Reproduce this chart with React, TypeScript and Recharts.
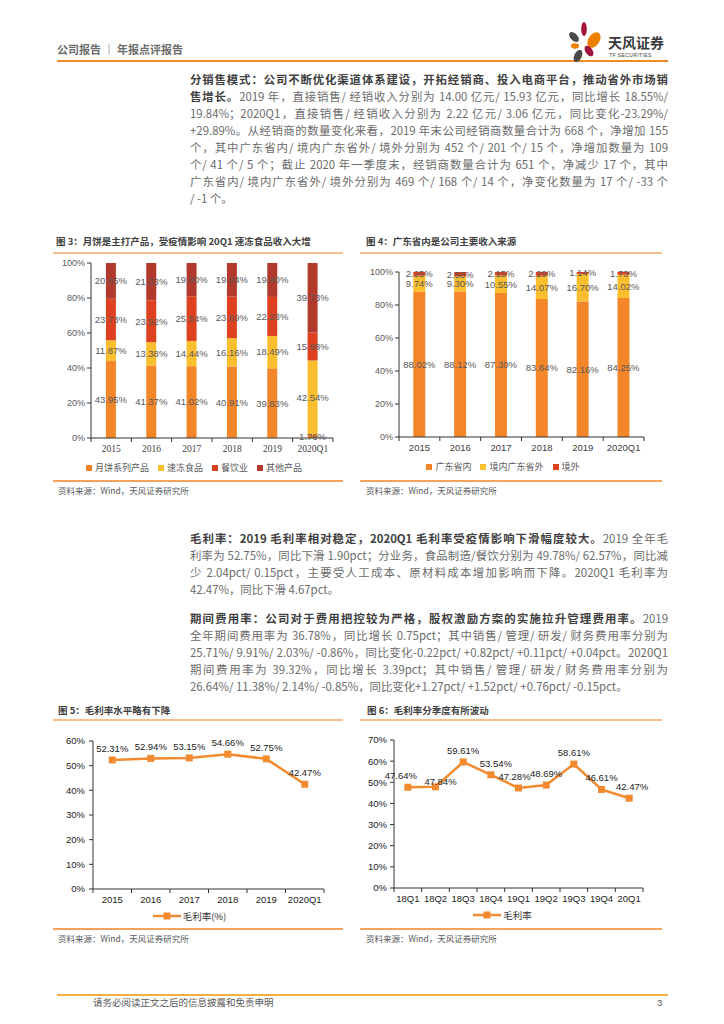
import React from "react";
import { BarChart, Bar, XAxis, YAxis, Legend, LabelList, LineChart, Line } from "recharts";

const years = ["2015", "2016", "2017", "2018", "2019", "2020Q1"];
const productNames = ["月饼系列产品", "速冻食品", "餐饮业", "其他产品"];
const mooncake = [43.95, 41.37, 41.02, 40.91, 39.83, 1.76];
const frozen = [11.87, 13.38, 14.44, 16.16, 18.49, 42.54];
const catering = [23.73, 23.92, 25.54, 23.69, 22.28, 15.98];
const others = [20.45, 21.33, 19.0, 19.24, 19.4, 39.73];

const regionNames = ["广东省内", "境内广东省外", "境外"];
const inGuangdong = [88.02, 88.12, 87.3, 83.64, 82.16, 84.25];
const outGuangdong = [9.74, 9.3, 10.55, 14.07, 16.7, 14.02];
const overseas = [2.25, 2.58, 2.15, 2.29, 1.14, 1.73];

const gmAnnual = [52.31, 52.94, 53.15, 54.66, 52.75, 42.47];
const quarters = ["18Q1", "18Q2", "18Q3", "18Q4", "19Q1", "19Q2", "19Q3", "19Q4", "20Q1"];
const gmQuarter = [47.64, 47.84, 59.61, 53.54, 47.28, 48.69, 58.61, 46.61, 42.47];

const pctTicks = [0, 20, 40, 60, 80, 100];
const annualTicks = [0, 10, 20, 30, 40, 50, 60];
const quarterTicks = [0, 10, 20, 30, 40, 50, 60, 70];

const productData = years.map((y, i) => ({
  year: y,
  mooncake: mooncake[i],
  frozen: frozen[i],
  catering: catering[i],
  others: others[i],
}));
const regionData = years.map((y, i) => ({
  year: y,
  inGd: inGuangdong[i],
  outGd: outGuangdong[i],
  overseas: overseas[i],
}));
const annualData = years.map((y, i) => ({ year: y, gm: gmAnnual[i] }));
const quarterData = quarters.map((q, i) => ({ q, gm: gmQuarter[i] }));

const ORANGE = "#F4862A";
const YELLOW = "#FBBE2E";
const RED = "#DE411F";
const DARKRED = "#B23A2C";
const LINE = "#F28A30";

const productColors = [ORANGE, YELLOW, RED, DARKRED];
const regionColors = [ORANGE, YELLOW, RED];

// label nudges for the quarterly chart, as in the original layout
const qLabelDx = [-7, 5, 0, 5, -4, 0, 0, 0, 3];
const qLabelDy = [0, 6, 0, 0, 0, 0, 0, 0, 0];

const SANS = '"Liberation Sans", Arial, "Noto Sans CJK SC", sans-serif';
const CJK = '"Noto Sans CJK SC", "Liberation Sans", sans-serif';

const pct = (v: number) => v.toFixed(2) + "%";

// x-axis ticks drawn on category boundaries
function bandTick(count: number, plotW: number, family: string, color: string, size: number) {
  const band = plotW / count;
  return (props: any) => {
    const { x, y, payload, index } = props;
    const axisY = y - 7;
    return (
      <g>
        <line x1={x - band / 2} x2={x - band / 2} y1={axisY} y2={axisY + 4} stroke="#333" />
        {index === count - 1 && (
          <line x1={x + band / 2} x2={x + band / 2} y1={axisY} y2={axisY + 4} stroke="#333" />
        )}
        <text x={x} y={y} dy="0.75em" textAnchor="middle" fill={color} fontSize={size} fontFamily={family}>
          {payload.value}
        </text>
      </g>
    );
  };
}

function squareLegend(names: string[], colors: string[]) {
  return () => (
    <div style={{ display: "flex", justifyContent: "center", gap: 9, fontSize: 9, color: "#595959", fontFamily: CJK, paddingTop: 3 }}>
      {names.map((n, i) => (
        <span key={n} style={{ display: "flex", alignItems: "center" }}>
          <span style={{ width: 6, height: 6, background: colors[i], marginRight: 3, display: "inline-block" }} />
          {n}
        </span>
      ))}
    </div>
  );
}

function lineLegend(name: string) {
  return () => (
    <div style={{ display: "flex", justifyContent: "center", alignItems: "center", fontSize: 9.5, color: "#333", fontFamily: CJK }}>
      <svg width={28} height={8} style={{ marginRight: 2 }}>
        <line x1={0} y1={4} x2={28} y2={4} stroke={LINE} strokeWidth={2.5} />
        <rect x={10.5} y={0.5} width={7} height={7} fill={LINE} />
      </svg>
      {name}
    </div>
  );
}

const squareDot = (p: any) => (
  <rect key={`d-${p.index}`} x={p.cx - 3.5} y={p.cy - 3.5} width={7} height={7} fill={LINE} />
);

const quarterLabel = (p: any) => {
  const { x, y, value, index } = p;
  return (
    <text
      x={x + qLabelDx[index]}
      y={y - 8 + qLabelDy[index]}
      textAnchor="middle"
      fill="#222"
      fontSize={9.5}
      fontFamily={SANS}
    >
      {pct(value)}
    </text>
  );
};

type Seg = [string, boolean];
const para1: Seg[][] = [
  [["分销售模式：公司不断优化渠道体系建设，开拓经销商、投入电商平台，推动省外市场销", true]],
  [["售增长。", true], ["2019 年，直接销售/ 经销收入分别为 14.00 亿元/ 15.93 亿元，同比增长 18.55%/", false]],
  [["19.84%；2020Q1，直接销售/ 经销收入分别为 2.22 亿元/ 3.06 亿元，同比变化-23.29%/", false]],
  [["+29.89%。从经销商的数量变化来看，2019 年末公司经销商数量合计为 668 个，净增加 155", false]],
  [["个，其中广东省内/ 境内广东省外/ 境外分别为 452 个/ 201 个/ 15 个，净增加数量为 109", false]],
  [["个/ 41 个/ 5 个；截止 2020 年一季度末，经销商数量合计为 651 个，净减少 17 个，其中", false]],
  [["广东省内/ 境内广东省外/ 境外分别为 469 个/ 168 个/ 14 个，净变化数量为 17 个/ -33 个", false]],
  [["/ -1 个。", false]],
];
const para2: Seg[][] = [
  [["毛利率：2019 毛利率相对稳定，2020Q1 毛利率受疫情影响下滑幅度较大。", true], ["2019 全年毛", false]],
  [["利率为 52.75%，同比下滑 1.90pct；分业务，食品制造/餐饮分别为 49.78%/ 62.57%，同比减", false]],
  [["少 2.04pct/ 0.15pct，主要受人工成本、原材料成本增加影响而下降。2020Q1 毛利率为", false]],
  [["42.47%，同比下滑 4.67pct。", false]],
];
const para3: Seg[][] = [
  [["期间费用率：公司对于费用把控较为严格，股权激励方案的实施拉升管理费用率。", true], ["2019", false]],
  [["全年期间费用率为 36.78%，同比增长 0.75pct；其中销售/ 管理/ 研发/ 财务费用率分别为", false]],
  [["25.71%/ 9.91%/ 2.03%/ -0.86%，同比变化-0.22pct/ +0.82pct/ +0.11pct/ +0.04pct。2020Q1", false]],
  [["期间费用率为 39.32%，同比增长 3.39pct；其中销售/ 管理/ 研发/ 财务费用率分别为", false]],
  [["26.64%/ 11.38%/ 2.14%/ -0.85%，同比变化+1.27pct/ +1.52pct/ +0.76pct/ -0.15pct。", false]],
];

function Paragraph({ lines, top }: { lines: Seg[][]; top: number }) {
  return (
    <>
      {lines.map((segs, i) => {
        const justify = i < lines.length - 1;
        return (
          <div
            key={i}
            style={{
              position: "absolute",
              left: 190,
              width: 478,
              top: top + i * 17 - 8,
              height: 16,
              lineHeight: "16px",
              fontSize: 11.4,
              fontFamily: CJK,
              color: "#6b6b6b",
              whiteSpace: "nowrap",
              textAlign: justify ? "justify" : "left",
              textAlignLast: justify ? "justify" : "left",
            }}
          >
            {segs.map(([t, b], j) =>
              b ? (
                <b key={j} style={{ color: "#404040" }}>{t}</b>
              ) : (
                <span key={j}>{t}</span>
              )
            )}
          </div>
        );
      })}
    </>
  );
}

function Txt({ x, y, size, color, bold, children, family }: any) {
  return (
    <div
      style={{
        position: "absolute",
        left: x,
        top: y - size * 0.7,
        fontSize: size,
        lineHeight: `${size * 1.4}px`,
        color,
        fontWeight: bold ? 700 : 400,
        fontFamily: family || CJK,
        whiteSpace: "nowrap",
      }}
    >
      {children}
    </div>
  );
}

function HLine({ x1, x2, y, color, h }: any) {
  return <div style={{ position: "absolute", left: x1, width: x2 - x1, top: y - h / 2, height: h, background: color }} />;
}

function Logo() {
  return (
    <svg style={{ position: "absolute", left: 560, top: 15, overflow: "visible" }} width={110} height={50}>
      <ellipse cx={24} cy={14} rx={2.8} ry={7} fill="#A3173C" />
      <ellipse cx={14} cy={22} rx={3.5} ry={6} fill="#4B4B4B" transform="rotate(-45 14 22)" />
      <ellipse cx={34} cy={25} rx={5.5} ry={8.5} fill="#EE7F00" transform="rotate(35 34 25)" />
      <ellipse cx={15} cy={31} rx={4} ry={2.8} fill="#EE7F00" />
      <ellipse cx={29} cy={36} rx={3.5} ry={6} fill="#A3173C" transform="rotate(-35 29 36)" />
      <ellipse cx={18} cy={41} rx={3.8} ry={6.5} fill="#4B4B4B" transform="rotate(25 18 41)" />
      <text x={48} y={33} fontSize={14} fontWeight={700} fill="#3a3a3a" fontFamily={CJK}>天风证券</text>
      <text x={49} y={42} fontSize={5} fill="#3a3a3a" fontFamily={SANS} letterSpacing={0.4}>TF SECURITIES</text>
    </svg>
  );
}

export default function App() {
  const band5 = 231 / 6;
  const band6 = 249 / 9;
  return (
    <div style={{ position: "absolute", left: 0, top: 0, width: 724, height: 1024, background: "#fff", overflow: "hidden" }}>
      {/* header */}
      <Txt x={57} y={50} size={11} color="#6b6b6b" bold>公司报告 ｜ 年报点评报告</Txt>
      <HLine x1={57} x2={668} y={61} color="#F08A24" h={2.5} />
      <Logo />

      <Paragraph lines={para1} top={79} />

      {/* figure 3 */}
      <Txt x={56} y={242} size={9.5} color="#404040" bold>图 3：月饼是主打产品，受疫情影响 20Q1 速冻食品收入大增</Txt>
      <HLine x1={53} x2={343} y={253} color="#F7BE8E" h={1.5} />
      <div style={{ position: "absolute", left: 55, top: 255 }}>
        <BarChart width={290} height={225} data={productData} margin={{ top: 8, right: 12, left: 0, bottom: 0 }} barCategoryGap="37%">
          <XAxis
            dataKey="year"
            height={20}
            interval={0}
            axisLine={{ stroke: "#333" }}
            tickLine={{ stroke: "none" }}
            tickSize={4}
            tickMargin={3}
            tick={bandTick(6, 242, '"Liberation Serif", serif', "#404040", 9.5)}
          />
          <YAxis
            width={36}
            domain={[0, 100]}
            allowDataOverflow
            ticks={pctTicks}
            tickFormatter={(v) => v + "%"}
            axisLine={{ stroke: "#333" }}
            tickLine={{ stroke: "#333" }}
            tickSize={4}
            tick={{ fontSize: 9, fill: "#595959", fontFamily: SANS }}
          />
          <Legend verticalAlign="bottom" height={22} content={squareLegend(productNames, productColors)} />
          <Bar dataKey="mooncake" name={productNames[0]} stackId="a" fill={ORANGE} isAnimationActive={false}>
            <LabelList dataKey="mooncake" position="center" formatter={pct} fill="#595959" fontSize={9.5} fontFamily={SANS} />
          </Bar>
          <Bar dataKey="frozen" name={productNames[1]} stackId="a" fill={YELLOW} isAnimationActive={false}>
            <LabelList dataKey="frozen" position="center" formatter={pct} fill="#595959" fontSize={9.5} fontFamily={SANS} />
          </Bar>
          <Bar dataKey="catering" name={productNames[2]} stackId="a" fill={RED} isAnimationActive={false}>
            <LabelList dataKey="catering" position="center" formatter={pct} fill="#595959" fontSize={9.5} fontFamily={SANS} />
          </Bar>
          <Bar dataKey="others" name={productNames[3]} stackId="a" fill={DARKRED} isAnimationActive={false}>
            <LabelList dataKey="others" position="center" formatter={pct} fill="#595959" fontSize={9.5} fontFamily={SANS} />
          </Bar>
        </BarChart>
      </div>
      <HLine x1={53} x2={343} y={481} color="#F4A460" h={1.2} />
      <Txt x={58} y={491} size={8.5} color="#595959">资料来源：Wind，天风证券研究所</Txt>

      {/* figure 4 */}
      <Txt x={366} y={242} size={9.5} color="#404040" bold>图 4：广东省内是公司主要收入来源</Txt>
      <HLine x1={360} x2={662} y={253} color="#F7BE8E" h={1.5} />
      <div style={{ position: "absolute", left: 362, top: 258 }}>
        <BarChart width={300} height={222} data={regionData} margin={{ top: 14, right: 18, left: 0, bottom: 0 }} barCategoryGap="35%">
          <XAxis
            dataKey="year"
            height={20}
            interval={0}
            axisLine={{ stroke: "#333" }}
            tickLine={{ stroke: "none" }}
            tickSize={4}
            tickMargin={3}
            tick={bandTick(6, 245, SANS, "#404040", 9.5)}
          />
          <YAxis
            width={37}
            domain={[0, 100]}
            allowDataOverflow
            ticks={pctTicks}
            tickFormatter={(v) => v + "%"}
            axisLine={{ stroke: "#333" }}
            tickLine={{ stroke: "#333" }}
            tickSize={4}
            tick={{ fontSize: 9, fill: "#595959", fontFamily: SANS }}
          />
          <Legend verticalAlign="bottom" height={23} content={squareLegend(regionNames, regionColors)} />
          <Bar dataKey="inGd" name={regionNames[0]} stackId="a" fill={ORANGE} isAnimationActive={false}>
            <LabelList dataKey="inGd" position="center" formatter={pct} fill="#595959" fontSize={9.5} fontFamily={SANS} />
          </Bar>
          <Bar dataKey="outGd" name={regionNames[1]} stackId="a" fill={YELLOW} isAnimationActive={false}>
            <LabelList dataKey="outGd" position="center" formatter={pct} fill="#595959" fontSize={9.5} fontFamily={SANS} />
          </Bar>
          <Bar dataKey="overseas" name={regionNames[2]} stackId="a" fill={RED} isAnimationActive={false}>
            <LabelList dataKey="overseas" position="center" formatter={pct} fill="#595959" fontSize={9.5} fontFamily={SANS} />
          </Bar>
        </BarChart>
      </div>
      <HLine x1={360} x2={662} y={481} color="#F4A460" h={1.2} />
      <Txt x={366} y={491} size={8.5} color="#595959">资料来源：Wind，天风证券研究所</Txt>

      <Paragraph lines={para2} top={538} />
      <Paragraph lines={para3} top={618} />

      {/* figure 5 */}
      <Txt x={58} y={711} size={9.5} color="#404040" bold>图 5：毛利率水平略有下降</Txt>
      <HLine x1={53} x2={343} y={720} color="#F7BE8E" h={1.5} />
      <div style={{ position: "absolute", left: 55, top: 728 }}>
        <LineChart width={288} height={201} data={annualData} margin={{ top: 13, right: 19, left: 0, bottom: 0 }}>
          <XAxis
            dataKey="year"
            height={20}
            interval={0}
            padding={{ left: band5 / 2, right: band5 / 2 }}
            axisLine={{ stroke: "#333" }}
            tickLine={{ stroke: "none" }}
            tickSize={4}
            tickMargin={3}
            tick={bandTick(6, 231, SANS, "#222", 9.5)}
          />
          <YAxis
            width={38}
            domain={[0, 60]}
            ticks={annualTicks}
            tickFormatter={(v) => v + "%"}
            axisLine={{ stroke: "#333" }}
            tickLine={{ stroke: "#333" }}
            tickSize={4}
            tickMargin={4}
            tick={{ fontSize: 9.5, fill: "#222", fontFamily: SANS }}
          />
          <Legend verticalAlign="bottom" height={20} content={lineLegend("毛利率(%)")} />
          <Line dataKey="gm" name="毛利率(%)" stroke={LINE} strokeWidth={2.5} dot={squareDot} isAnimationActive={false}>
            <LabelList dataKey="gm" position="top" offset={8} formatter={pct} fill="#222" fontSize={9.5} fontFamily={SANS} />
          </Line>
        </LineChart>
      </div>
      <HLine x1={53} x2={343} y={929} color="#F4A460" h={1.2} />
      <Txt x={58} y={939} size={8.5} color="#595959">资料来源：Wind，天风证券研究所</Txt>

      {/* figure 6 */}
      <Txt x={367} y={711} size={9.5} color="#404040" bold>图 6：毛利率分季度有所波动</Txt>
      <HLine x1={360} x2={662} y={720} color="#F7BE8E" h={1.5} />
      <div style={{ position: "absolute", left: 362, top: 727 }}>
        <LineChart width={300} height={201} data={quarterData} margin={{ top: 13, right: 19, left: 0, bottom: 0 }}>
          <XAxis
            dataKey="q"
            height={20}
            interval={0}
            padding={{ left: band6 / 2, right: band6 / 2 }}
            axisLine={{ stroke: "#333" }}
            tickLine={{ stroke: "none" }}
            tickSize={4}
            tickMargin={3}
            tick={bandTick(9, 249, SANS, "#222", 9.5)}
          />
          <YAxis
            width={32}
            domain={[0, 70]}
            ticks={quarterTicks}
            tickFormatter={(v) => v + "%"}
            axisLine={{ stroke: "#333" }}
            tickLine={{ stroke: "#333" }}
            tickSize={4}
            tickMargin={3}
            tick={{ fontSize: 9.5, fill: "#222", fontFamily: SANS }}
          />
          <Legend verticalAlign="bottom" height={20} content={lineLegend("毛利率")} />
          <Line dataKey="gm" name="毛利率" stroke={LINE} strokeWidth={2.5} dot={squareDot} isAnimationActive={false}>
            <LabelList dataKey="gm" content={quarterLabel} />
          </Line>
        </LineChart>
      </div>
      <HLine x1={360} x2={662} y={929} color="#F4A460" h={1.2} />
      <Txt x={366} y={939} size={8.5} color="#595959">资料来源：Wind，天风证券研究所</Txt>

      {/* footer */}
      <HLine x1={57} x2={668} y={995} color="#F5B041" h={1.2} />
      <Txt x={93} y={1003} size={9.5} color="#595959">请务必阅读正文之后的信息披露和免责申明</Txt>
      <Txt x={657} y={1003} size={9.5} color="#595959" family={SANS}>3</Txt>
    </div>
  );
}
